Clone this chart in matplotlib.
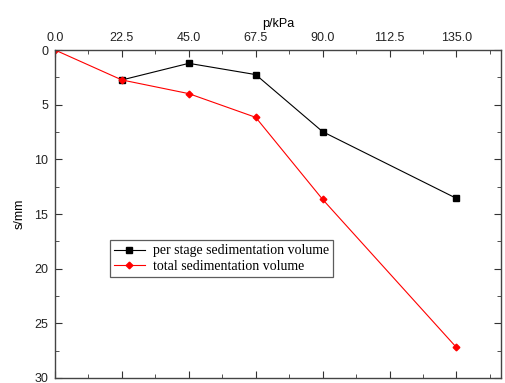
import matplotlib.pyplot as plt
from matplotlib.ticker import MultipleLocator

# data
p_stage = [22.5, 45.0, 67.5, 90.0, 135.0]
s_stage = [2.74, 1.22, 2.25, 7.47, 13.57]
p_total = [0.0, 22.5, 45.0, 67.5, 90.0, 135.0]
s_total = [0.0, 2.74, 3.99, 6.16, 13.66, 27.2]
x_ticks = [0.0, 22.5, 45.0, 67.5, 90.0, 112.5, 135.0]

plt.rcParams['font.family'] = 'Liberation Sans'

fig = plt.figure(figsize=(5.05, 3.83), dpi=100)
ax = fig.add_axes([55 / 505, 5 / 383, 446 / 505, 328 / 383])

ax.plot(p_stage, s_stage, color='black', marker='s', markersize=3.8, linewidth=0.8,
        label='per stage sedimentation volume')
ax.plot(p_total, s_total, color='red', marker='D', markersize=3.4, linewidth=0.8,
        label='total sedimentation volume')

ax.set_xlim(0, 150)
ax.set_ylim(30, 0)
ax.xaxis.set_ticks_position('top')
ax.xaxis.set_label_position('top')
ax.set_xticks(x_ticks)
ax.set_xticklabels([f'{v:.1f}' for v in x_ticks])
ax.xaxis.set_minor_locator(MultipleLocator(11.25))
ax.yaxis.set_major_locator(MultipleLocator(5))
ax.yaxis.set_minor_locator(MultipleLocator(2.5))
ax.tick_params(which='both', direction='in', top=True, bottom=True, left=True, right=True,
               labelsize=9, colors='#333333', labelcolor='#222222')
ax.tick_params(axis='x', pad=4)
ax.tick_params(axis='y', pad=5)
ax.tick_params(which='major', length=5)
ax.tick_params(which='minor', length=3)
for sp in ax.spines.values():
    sp.set_color('#444444')
    sp.set_linewidth(1.0)

ax.set_xlabel('p/kPa', fontsize=9, labelpad=4)
ax.set_ylabel('s/mm', fontsize=9, labelpad=6)

leg = ax.legend(loc='upper left', bbox_to_anchor=(0.123, 0.42), frameon=True, fancybox=False,
                prop={'family': 'Liberation Serif', 'size': 10}, handlelength=2.2,
                borderpad=0.3, labelspacing=0.2, handletextpad=0.6, borderaxespad=0)
leg.get_frame().set_edgecolor('#333333')
leg.get_frame().set_linewidth(0.9)

fig.savefig('out.png', dpi=100)
